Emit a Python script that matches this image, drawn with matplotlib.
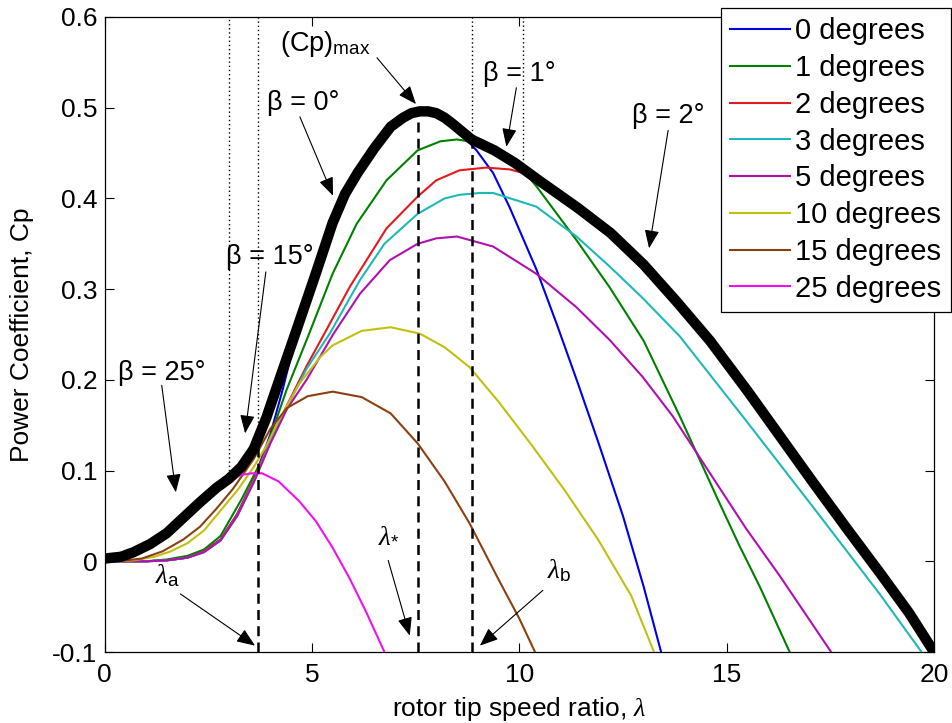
import numpy as np
import matplotlib
matplotlib.use("Agg")
import matplotlib.pyplot as plt

plt.rcParams['font.family'] = ['Liberation Sans', 'DejaVu Sans']
plt.rcParams['mathtext.fontset'] = 'custom'
plt.rcParams['mathtext.rm'] = 'Liberation Sans'
plt.rcParams['mathtext.it'] = 'Liberation Serif:italic'
plt.rcParams['mathtext.sf'] = 'Liberation Sans'

# ---- power coefficient curves, one per blade pitch angle ----
pitch_labels = ['0 degrees', '1 degrees', '2 degrees', '3 degrees',
                '5 degrees', '10 degrees', '15 degrees', '25 degrees']
pitch_colors = ['#0000e6', '#008000', '#e31a1c', '#1fb8b8',
                '#b010b0', '#c0c010', '#8c4010', '#f010f0']

lam_p0 = [0.0, 1.0, 1.5, 2.0, 2.4, 2.8, 3.2, 3.6, 4.0, 4.3, 4.6, 5.1, 5.5, 6.1,
          6.9, 7.6, 8.0, 8.4, 8.97, 9.37, 9.77, 10.42, 10.9, 11.4, 11.9, 12.5,
          13.0, 13.42]
cp_p0 = [0.0, 0.0, 0.001, 0.004, 0.011, 0.024, 0.052, 0.09, 0.14, 0.19, 0.245,
         0.318, 0.373, 0.428, 0.479, 0.495, 0.492, 0.481, 0.453, 0.428, 0.39,
         0.321, 0.262, 0.198, 0.132, 0.05, -0.028, -0.1]

lam_p1 = [0.0, 1.0, 1.5, 2.0, 2.4, 2.8, 3.3, 3.83, 4.39, 4.9, 5.5, 6.08, 6.8,
          7.55, 8.1, 8.5, 8.9, 9.5, 10.0, 10.42, 11.38, 12.18, 13.0, 13.87,
          14.2, 14.83, 15.3, 15.8, 16.52]
cp_p1 = [0.0, 0.0, 0.002, 0.006, 0.013, 0.028, 0.068, 0.115, 0.189, 0.247,
         0.317, 0.372, 0.42, 0.453, 0.463, 0.465, 0.462, 0.451, 0.436, 0.413,
         0.354, 0.302, 0.243, 0.16, 0.127, 0.064, 0.018, -0.028, -0.1]

lam_p2 = [0.0, 1.0, 1.5, 2.0, 2.4, 2.8, 3.2, 3.6, 4.0, 4.4, 4.87, 5.23, 5.92,
          6.8, 7.55, 8.0, 8.56, 9.2, 9.77, 10.1, 10.5, 11.4, 12.2, 13.0, 13.8,
          14.6, 15.5, 16.3, 17.1, 17.9, 18.7, 19.4, 20.0]
cp_p2 = [0.0, 0.0, 0.001, 0.004, 0.011, 0.024, 0.052, 0.09, 0.135, 0.172,
         0.215, 0.245, 0.303, 0.367, 0.402, 0.42, 0.431, 0.434, 0.432, 0.428,
         0.419, 0.39, 0.362, 0.327, 0.286, 0.243, 0.188, 0.137, 0.086, 0.036,
         -0.013, -0.057, -0.1]

lam_p3 = [0.0, 1.0, 1.5, 2.0, 2.4, 2.8, 3.2, 3.6, 4.0, 4.4, 4.87, 5.43, 6.16,
          6.75, 7.55, 8.2, 8.56, 9.05, 9.37, 10.41, 11.38, 12.18, 12.98, 13.87,
          15.47, 17.08, 18.69, 19.7]
cp_p3 = [0.0, 0.0, 0.001, 0.004, 0.01, 0.023, 0.05, 0.088, 0.132, 0.17, 0.212,
         0.251, 0.31, 0.35, 0.383, 0.4, 0.404, 0.406, 0.406, 0.391, 0.358,
         0.325, 0.29, 0.248, 0.155, 0.06, -0.036, -0.1]

lam_p5 = [0.0, 1.0, 1.5, 2.0, 2.4, 2.8, 3.2, 3.6, 4.0, 4.4, 4.87, 5.51, 6.16,
          6.88, 7.55, 8.0, 8.5, 9.37, 10.41, 11.38, 12.18, 12.98, 13.7, 14.2,
          15.47, 16.28, 17.52]
cp_p5 = [0.0, 0.0, 0.001, 0.004, 0.01, 0.023, 0.05, 0.087, 0.13, 0.168, 0.2,
         0.25, 0.295, 0.332, 0.35, 0.356, 0.358, 0.347, 0.317, 0.28, 0.244,
         0.203, 0.16, 0.125, 0.036, -0.016, -0.1]

lam_p10 = [0.0, 0.7, 1.2, 1.6, 2.0, 2.4, 2.8, 3.2, 3.6, 3.9, 4.2, 4.7, 5.2, 5.5,
           6.2, 6.9, 7.6, 8.2, 8.8, 9.5, 10.3, 11.1, 11.9, 12.7, 13.25]
cp_p10 = [0.0, 0.001, 0.005, 0.011, 0.02, 0.034, 0.056, 0.078, 0.104, 0.127,
          0.155, 0.196, 0.225, 0.238, 0.254, 0.258, 0.251, 0.236, 0.214, 0.176,
          0.128, 0.078, 0.024, -0.038, -0.1]

lam_p15 = [0.0, 0.5, 0.9, 1.4, 1.9, 2.3, 2.7, 3.1, 3.6, 4.0, 4.4, 4.9, 5.5, 6.2,
           6.9, 7.55, 8.2, 8.8, 9.5, 10.0, 10.38]
cp_p15 = [0.0, 0.001, 0.003, 0.011, 0.024, 0.038, 0.058, 0.08, 0.113, 0.146,
          0.169, 0.182, 0.187, 0.181, 0.163, 0.13, 0.088, 0.042, -0.02, -0.063,
          -0.1]

lam_p25 = [0.0, 0.4, 0.7, 1.1, 1.5, 1.9, 2.3, 2.7, 3.0, 3.27, 3.55, 3.8, 4.2,
           4.7, 5.1, 5.5, 5.9, 6.3, 6.75]
cp_p25 = [0.003, 0.004, 0.009, 0.018, 0.029, 0.046, 0.062, 0.077, 0.087, 0.095,
          0.097, 0.097, 0.088, 0.066, 0.044, 0.015, -0.018, -0.055, -0.1]

# envelope of the family (maximum power coefficient)
lam_env = [0.0, 0.4, 0.7, 1.1, 1.5, 1.9, 2.3, 2.7, 3.0, 3.3, 3.6, 3.9, 4.2, 4.6,
           5.1, 5.5, 5.8, 6.1, 6.5, 6.9, 7.2, 7.4, 7.6, 7.8, 8.0, 8.2, 8.4,
           8.85, 9.4, 9.9, 10.5, 11.4, 12.2, 13.0, 13.8, 14.6, 15.5, 16.3, 17.1,
           17.9, 18.7, 19.4, 20.0]
cp_env = [0.003, 0.005, 0.01, 0.019, 0.031, 0.048, 0.065, 0.081, 0.091, 0.104,
          0.124, 0.158, 0.198, 0.251, 0.318, 0.373, 0.405, 0.428, 0.455, 0.479,
          0.489, 0.494, 0.496, 0.496, 0.494, 0.489, 0.482, 0.465, 0.453, 0.439,
          0.419, 0.39, 0.362, 0.327, 0.286, 0.243, 0.188, 0.137, 0.086, 0.036,
          -0.013, -0.057, -0.1]

# switching points of the envelope and the marked tip speed ratios
switch_lams = [3.0, 3.7, 8.85, 10.08]
lambda_a, lambda_star, lambda_b = 3.7, 7.55, 8.85

curves = [(lam_p0, cp_p0), (lam_p1, cp_p1), (lam_p2, cp_p2), (lam_p3, cp_p3),
          (lam_p5, cp_p5), (lam_p10, cp_p10), (lam_p15, cp_p15), (lam_p25, cp_p25)]

W, H = 952, 723
fig = plt.figure(figsize=(W / 100, H / 100), dpi=100)
ax = fig.add_axes([104.5 / W, 1 - 652 / H, (934 - 104.5) / W, (652 - 17) / H])

for (lx, cy), col, lab in zip(curves, pitch_colors, pitch_labels):
    ax.plot(lx, cy, color=col, lw=1.5, label=lab, zorder=3)

# envelope switching positions (dotted) and marked ratios (dashed)
for xs in switch_lams:
    y0 = np.interp(xs, lam_env, cp_env)
    ax.plot([xs, xs], [y0, 0.6], color='k', lw=1.0, ls=(0, (1, 2)), zorder=2)
for xs in (lambda_a, lambda_star, lambda_b):
    y0 = np.interp(xs, lam_env, cp_env)
    ax.plot([xs, xs], [-0.1, y0], color='k', lw=1.8, ls=(0, (4, 2.5)), zorder=4)

ax.plot(lam_env, cp_env, color='k', lw=7.5, solid_capstyle='butt',
        solid_joinstyle='round', zorder=5)

ax.set_xlim(0, 20)
ax.set_ylim(-0.1, 0.6)
ax.set_xticks([0, 5, 10, 15, 20])
ax.set_yticks([-0.1, 0, 0.1, 0.2, 0.3, 0.4, 0.5, 0.6])
ax.set_yticklabels(['-0.1', '0', '0.1', '0.2', '0.3', '0.4', '0.5', '0.6'])
ax.tick_params(direction='in', top=True, right=True, length=6.5, width=0.8,
               labelsize=19)
ax.tick_params(axis='x', pad=8)
ax.tick_params(axis='y', pad=5)
for sp in ax.spines.values():
    sp.set_linewidth(0.9)

ax.set_xlabel(r'rotor tip speed ratio, $\lambda$', fontsize=19)
ax.set_ylabel('Power Coefficient, Cp', fontsize=19)
ax.xaxis.set_label_coords(0.5, -0.068)
ax.yaxis.set_label_coords(-0.085, 0.5)

# text labels and pointers
fs = 19.5
ax.text(4.23, 0.563, r'(Cp)$_{\mathrm{max}}$', fontsize=fs, va='baseline')
ax.text(3.92, 0.497, 'β = 0°', fontsize=fs, va='baseline')
ax.text(2.93, 0.328, 'β = 15°', fontsize=fs, va='baseline')
ax.text(0.33, 0.200, 'β = 25°', fontsize=fs, va='baseline')
ax.text(9.12, 0.529, 'β = 1°', fontsize=fs, va='baseline')
ax.text(12.73, 0.483, 'β = 2°', fontsize=fs, va='baseline')
ax.text(1.22, -0.024, r'$\lambda_{\mathrm{a}}$', fontsize=fs, va='baseline')
ax.text(6.59, 0.021, r'$\lambda_{*}$', fontsize=fs, va='baseline')
ax.text(10.66, -0.018, r'$\lambda_{\mathrm{b}}$', fontsize=fs, va='baseline')

pointers = [((6.57, 0.555), (7.51, 0.504)),
            ((4.71, 0.490), (5.51, 0.403)),
            ((3.89, 0.319), (3.39, 0.141)),
            ((1.38, 0.194), (1.72, 0.076)),
            ((9.93, 0.522), (9.69, 0.457)),
            ((13.59, 0.475), (13.13, 0.345)),
            ((1.83, -0.036), (3.63, -0.093)),
            ((6.84, 0.001), (7.36, -0.082)),
            ((10.57, -0.032), (9.05, -0.093))]
for tail, tip in pointers:
    ax.annotate('', xy=tip, xytext=tail,
                arrowprops=dict(arrowstyle='-|>,head_length=0.75,head_width=0.3',
                                mutation_scale=15, lw=0.8, color='k',
                                shrinkA=0, shrinkB=0), zorder=6)

leg = ax.legend(loc='upper left', bbox_to_anchor=(721 / W, 1 - 8 / H),
                bbox_transform=fig.transFigure, fontsize=21, frameon=True,
                fancybox=False, framealpha=1, edgecolor='k', borderpad=0.32,
                labelspacing=0.3, handlelength=2.05, handletextpad=0.17,
                borderaxespad=0)
leg.get_frame().set_linewidth(0.9)
leg.set_zorder(10)

fig.savefig('out.png', dpi=100)
